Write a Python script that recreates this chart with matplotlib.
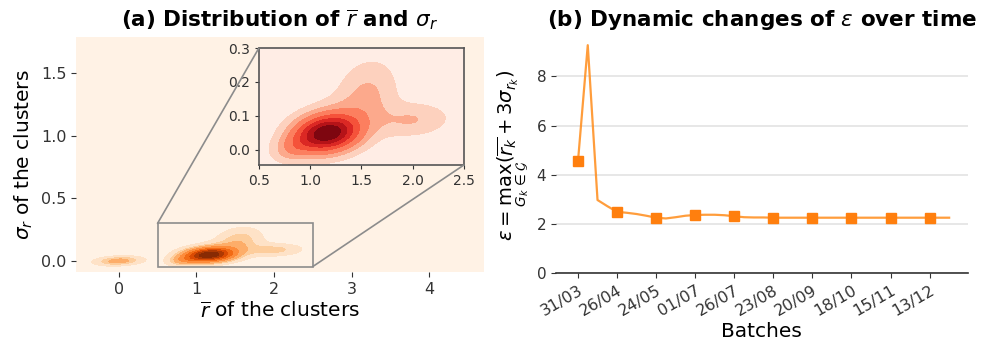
import numpy as np
import matplotlib
matplotlib.use("Agg")
import matplotlib.pyplot as plt
from matplotlib.patches import Rectangle, ConnectionPatch

# ---------------- data ----------------
# panel (a): density components of (r_mean, sigma_r) of clusters
comp_x = [1.08, 1.25, 1.25, 1.55, 2.00, 0.00, 0.85]
comp_y = [0.045, 0.052, 0.065, 0.170, 0.088, 0.000, 0.010]
comp_sx = [0.16, 0.16, 0.30, 0.18, 0.22, 0.18, 0.12]
comp_sy = [0.032, 0.032, 0.052, 0.060, 0.030, 0.022, 0.025]
comp_rho = [0.15, 0.15, 0.40, 0.20, 0.10, 0.20, 0.30]
comp_w = [0.25, 0.25, 0.20, 0.10, 0.06, 0.06, 0.04]

# panel (b): epsilon per batch
eps_values = [4.55, 9.27, 2.97, 2.72, 2.49, 2.45, 2.40, 2.33, 2.25, 2.22,
              2.27, 2.33, 2.36, 2.37, 2.37, 2.35, 2.31, 2.27, 2.26, 2.26,
              2.25, 2.25, 2.25, 2.25, 2.25, 2.25, 2.25, 2.25, 2.25, 2.25,
              2.25, 2.25, 2.25, 2.25, 2.25, 2.25, 2.25, 2.25, 2.25]
batch_labels = ["31/03", "26/04", "24/05", "01/07", "26/07", "23/08",
                "20/09", "18/10", "15/11", "13/12"]
label_every = 4


def density(X, Y):
    Z = np.zeros_like(X)
    for x0, y0, sx, sy, r, w in zip(comp_x, comp_y, comp_sx, comp_sy, comp_rho, comp_w):
        dx = (X - x0) / sx
        dy = (Y - y0) / sy
        q = (dx * dx - 2 * r * dx * dy + dy * dy) / (1 - r * r)
        Z += w * np.exp(-0.5 * q) / (2 * np.pi * sx * sy * np.sqrt(1 - r * r))
    return Z


def iso_levels(Z, n=8, thresh=0.05):
    z = np.sort(Z.ravel())
    cm = np.cumsum(z)
    cm /= cm[-1]
    props = np.linspace(thresh, 1, n)[:-1]
    lv = [z[np.searchsorted(cm, p)] for p in props]
    return [0] + lv + [Z.max() * 1.01]


fig = plt.figure(figsize=(9.92, 3.48), dpi=100)

# ---------------- panel (a) ----------------
ax = fig.add_axes([0.0766, 0.218, 0.411, 0.675])
xs = np.linspace(-0.55, 4.7, 500)
ys = np.linspace(-0.09, 1.79, 400)
X, Y = np.meshgrid(xs, ys)
Z = density(X, Y)
lv = iso_levels(Z, n=9)
cols = plt.get_cmap("Oranges")(np.linspace(0.03, 0.97, len(lv) - 1))
ax.contourf(X, Y, Z, levels=lv, colors=cols)
ax.set_xlim(-0.55, 4.7)
ax.set_ylim(-0.09, 1.79)
for s in ax.spines.values():
    s.set_visible(False)
ax.set_xticks([0, 1, 2, 3, 4])
ax.set_yticks([0.0, 0.5, 1.0, 1.5])
ax.tick_params(labelsize=11.5, colors="#333333", length=3.5)
ax.set_xlabel(r"$\overline{r}$ of the clusters", fontsize=14.5, labelpad=3)
ax.set_ylabel(r"$\sigma_r$ of the clusters", fontsize=14.5)
ax.set_title(r"(a) Distribution of $\overline{r}$ and $\sigma_r$", fontsize=15.5,
             fontweight="bold", pad=8)

# zoom rectangle
ix0, ix1, iy0, iy1 = 0.5, 2.5, -0.045, 0.3
ax.add_patch(Rectangle((ix0, iy0), ix1 - ix0, iy1 - iy0, fill=False,
                       edgecolor="#8c8c8c", lw=1.2, zorder=5))

# inset
axi = fig.add_axes([0.261, 0.526, 0.2067, 0.336])
xi = np.linspace(ix0, ix1, 400)
yi = np.linspace(iy0, iy1, 300)
XI, YI = np.meshgrid(xi, yi)
ZI = density(XI, YI)
lvi = iso_levels(ZI, n=8)
colsi = plt.get_cmap("Reds")(np.linspace(0.05, 0.95, len(lvi) - 1))
axi.contourf(XI, YI, ZI, levels=lvi, colors=colsi)
axi.set_xlim(ix0, ix1)
axi.set_ylim(iy0, iy1)
axi.set_xticks([0.5, 1.0, 1.5, 2.0, 2.5])
axi.set_yticks([0.0, 0.1, 0.2, 0.3])
axi.tick_params(labelsize=10, colors="#333333", length=3)
for s in axi.spines.values():
    s.set_color("#555555")
    s.set_linewidth(1.2)

for (xa, ya), (xb, yb) in [((ix0, iy1), (ix0, iy1)), ((ix1, iy0), (ix1, iy0))]:
    con = ConnectionPatch(xyA=(xa, ya), coordsA=ax.transData,
                          xyB=(xb, yb), coordsB=axi.transData,
                          color="#8c8c8c", lw=1.2)
    fig.add_artist(con)

# ---------------- panel (b) ----------------
bx = fig.add_axes([0.5605, 0.2155, 0.415, 0.678])
idx = np.arange(len(eps_values))
bx.plot(idx, eps_values, color="#ff8c1a", lw=1.6, alpha=0.85, zorder=3)
bx.plot(idx[::label_every], eps_values[::label_every], ls="none", marker="s",
        ms=7, color="#ff7f0e", zorder=4)
bx.set_xlim(-2.25, 39.9)
bx.set_ylim(0, 9.6)
bx.set_yticks([0, 2, 4, 6, 8])
bx.set_xticks(idx[::label_every][:len(batch_labels)])
bx.set_xticklabels(batch_labels, rotation=30, ha="right", rotation_mode="anchor")
bx.grid(axis="y", color="#e3e3e3", lw=1.2)
bx.set_axisbelow(True)
for k in ["left", "right", "top"]:
    bx.spines[k].set_visible(False)
bx.spines["bottom"].set_color("#333333")
bx.spines["bottom"].set_linewidth(1.2)
bx.tick_params(labelsize=11, colors="#333333", length=3.5)
bx.tick_params(axis="x", labelsize=11.5)
bx.set_xlabel("Batches", fontsize=14.5, labelpad=2)
bx.set_ylabel(r"$\varepsilon = \max_{G_k \in \mathcal{G}}(\overline{r_k} + 3\sigma_{r_k})$",
              fontsize=14)
bx.set_title(r"(b) Dynamic changes of $\varepsilon$ over time", fontsize=15.5,
             fontweight="bold", pad=8)

fig.savefig("out.png", dpi=100)
